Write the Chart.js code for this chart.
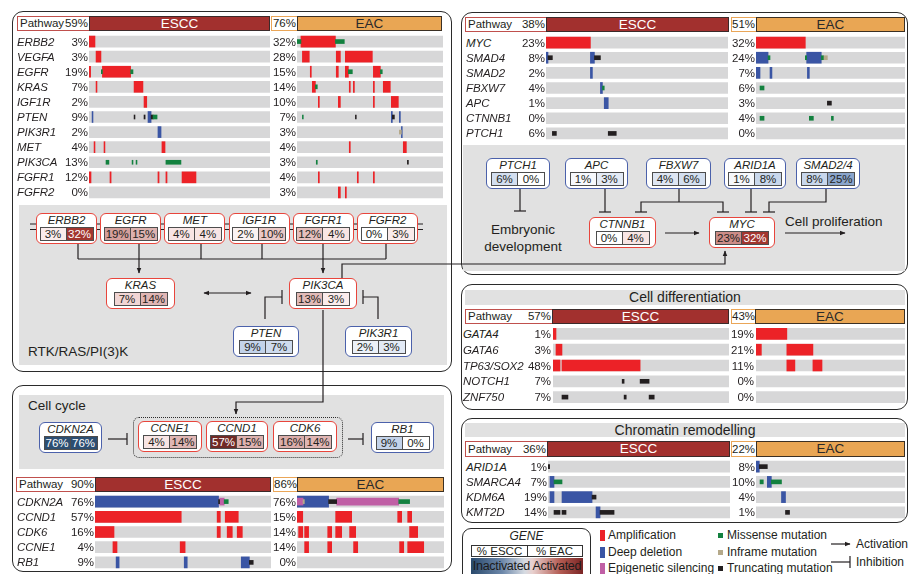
<!DOCTYPE html>
<html>
<head>
<meta charset="utf-8">
<script src="https://cdn.jsdelivr.net/npm/chart.js@4.4.1/dist/chart.umd.min.js"></script>
<style>
  body { margin: 0; background: #fff; }
  #fig { position: relative; width: 909px; height: 574px; overflow: hidden;
         font-family: "Liberation Sans", Arial, sans-serif; color: #231f20; }
  #fig div { position: absolute; box-sizing: border-box; white-space: nowrap; }
  #fig svg { position: absolute; left: 0; top: 0; }
</style>
</head>
<body>
<div id="fig"></div>
<script>
// ---------- data (positions along a track are in % of the track's samples) ----------
const rtkGenes = ["ERBB2", "VEGFA", "EGFR", "KRAS", "IGF1R", "PTEN", "PIK3R1", "MET", "PIK3CA", "FGFR1", "FGFR2"];
const rtkEsccPct = [3, 3, 19, 7, 2, 9, 2, 4, 13, 12, 0];
const rtkEacPct = [32, 28, 15, 14, 10, 7, 3, 4, 3, 4, 3];
const rtkPathway = [59, 76];
const rtkEsccEvents = [
  [0, "amp", 0, 3.3], [1, "amp", 3.9, 6.6],
  [2, "amp", 0, 0.9], [2, "mis", 6.8, 7.4], [2, "amp", 7.4, 23], [2, "mis", 23, 24.3],
  [3, "amp", 3.9, 4.4], [3, "amp", 24.9, 29.8],
  [4, "amp", 30.4, 31.9],
  [5, "del", 1.7, 2.2], [5, "trunc", 24.9, 25.4], [5, "trunc", 30.4, 31], [5, "del", 32.6, 34.3], [5, "trunc", 34.3, 35.4], [5, "mis", 35.4, 37.6],
  [6, "del", 38.1, 39.8],
  [7, "amp", 2.8, 3.3], [7, "amp", 8.3, 8.8], [7, "amp", 40.3, 42],
  [8, "mis", 9.4, 11], [8, "mis", 23.8, 24.3], [8, "mis", 26, 26.5], [8, "mis", 42.5, 50.8],
  [9, "amp", 0, 1.1], [9, "amp", 11.6, 12.2], [9, "amp", 38.1, 38.7], [9, "amp", 42.5, 43.1], [9, "amp", 51.4, 59.1],
];
const rtkEacEvents = [
  [0, "mis", 0, 2.7], [0, "amp", 2.7, 26.3], [0, "mis", 26.3, 32.4],
  [1, "amp", 3.7, 8.4], [1, "amp", 26.9, 29.7], [1, "amp", 33.1, 51.6],
  [2, "amp", 9.1, 9.8], [2, "amp", 26.9, 28.3], [2, "amp", 33.1, 35.2], [2, "mis", 35.2, 37.9], [2, "amp", 52.3, 57.1], [2, "mis", 57.1, 58.4],
  [3, "amp", 10.5, 12.6], [3, "mis", 12.6, 13.9], [3, "amp", 35.8, 36.5], [3, "amp", 38.6, 39.3], [3, "amp", 52.3, 53], [3, "amp", 59.1, 63.9],
  [4, "amp", 14.6, 15.3], [4, "amp", 28.3, 29.7], [4, "amp", 52.3, 53], [4, "amp", 64.6, 69.4],
  [5, "mis", 3.7, 4.3], [5, "trunc", 40, 40.6], [5, "del", 64.6, 65.3], [5, "trunc", 65.3, 66.7], [5, "del", 70.1, 70.8],
  [6, "inf", 70.1, 71.5], [6, "del", 71.5, 72.1],
  [7, "amp", 35.8, 36.5], [7, "amp", 72.8, 74.9],
  [8, "mis", 13.2, 13.9], [8, "trunc", 75.6, 76.3],
  [9, "amp", 14.6, 15.3], [9, "amp", 41.3, 42], [9, "amp", 52.3, 53],
  [10, "amp", 28.3, 29.7], [10, "amp", 33.1, 33.8],
];

const ccGenes = ["CDKN2A", "CCND1", "CDK6", "CCNE1", "RB1"];
const ccEsccPct = [76, 57, 16, 4, 9];
const ccEacPct = [76, 15, 14, 14, 0];
const ccPathway = [90, 86];
const ccEsccEvents = [
  [0, "del", 0, 70.2], [0, "trunc", 70.2, 70.8], [0, "epi", 70.8, 73.4], [0, "mis", 73.4, 75.7],
  [1, "amp", 0, 49], [1, "amp", 69.4, 71.2], [1, "amp", 74, 81.4],
  [2, "amp", 0, 10.8], [2, "amp", 69.4, 71.2], [2, "amp", 75.1, 78], [2, "amp", 80.8, 83.7],
  [3, "amp", 10.2, 12.5], [3, "amp", 48.4, 51.2],
  [4, "del", 12, 13.7], [4, "del", 50.7, 52.4], [4, "del", 83.1, 87.7], [4, "trunc", 87.7, 89.9],
];
const ccEacEvents = [
  [0, "del", 0, 21.5], [0, "epi", 0, 4.1], [0, "inf", 4.1, 5], [0, "trunc", 21.5, 27], [0, "epi", 27, 69.2], [0, "mis", 69.2, 76.6],
  [1, "amp", 0, 3.9], [1, "amp", 26.3, 37.2], [1, "amp", 68.5, 71.2], [1, "amp", 75.3, 78],
  [2, "amp", 1.1, 3.9], [2, "amp", 5.2, 7.9], [2, "amp", 20.9, 23.6], [2, "amp", 26.3, 30.4], [2, "amp", 35.8, 39.9], [2, "amp", 76.6, 82.1],
  [3, "amp", 5.2, 7.9], [3, "amp", 20.9, 23.6], [3, "amp", 38.5, 41.3], [3, "amp", 69.8, 72.6], [3, "amp", 75.3, 86.2],
];

const mycGenes = ["MYC", "SMAD4", "SMAD2", "FBXW7", "APC", "CTNNB1", "PTCH1"];
const mycEsccPct = [23, 8, 2, 4, 1, 0, 6];
const mycEacPct = [32, 24, 7, 6, 3, 4, 0];
const mycPathway = [38, 51];
const mycEsccEvents = [
  [0, "amp", 0, 24.4],
  [1, "del", 0, 1.1], [1, "trunc", 1.1, 3.5], [1, "del", 24.4, 26.6], [1, "trunc", 26.6, 29.9],
  [2, "del", 24.4, 25.5],
  [3, "del", 29.9, 31], [3, "mis", 31, 32],
  [4, "del", 32, 34.2],
  [6, "trunc", 3.5, 5.7], [6, "trunc", 34.2, 38.6],
];
const mycEacEvents = [
  [0, "amp", 0, 33.1],
  [1, "del", 0, 8.1], [1, "mis", 8.1, 9.4], [1, "mis", 33.1, 34], [1, "del", 34, 43.8], [1, "mis", 43.8, 45.2], [1, "inf", 45.2, 47.9],
  [2, "del", 0, 2.7], [2, "del", 9.4, 10.7], [2, "del", 34.5, 35.8],
  [3, "mis", 2.7, 5.4],
  [4, "trunc", 47.9, 50.6],
  [5, "mis", 2.7, 5.4], [5, "mis", 35.8, 38.5], [5, "mis", 50.6, 51.9],
];

const diffGenes = ["GATA4", "GATA6", "TP63/SOX2", "NOTCH1", "ZNF750"];
const diffEsccPct = [1, 3, 48, 7, 7];
const diffEacPct = [19, 21, 11, 0, 0];
const diffPathway = [57, 43];
const diffEsccEvents = [
  [0, "amp", 0, 1.7], [1, "amp", 1.7, 5.1], [2, "amp", 0, 4], [2, "amp", 5.1, 49.5],
  [3, "trunc", 39.3, 40.4], [3, "trunc", 49.5, 54.6],
  [4, "trunc", 5.1, 8.5], [4, "trunc", 40.4, 41.6], [4, "trunc", 54.6, 57.5],
];
const diffEacEvents = [
  [0, "amp", 0, 20.7], [1, "amp", 0, 3.6], [1, "amp", 20.7, 38.2], [2, "amp", 20.7, 26.1], [2, "amp", 38.2, 44.3],
];

const chromGenes = ["ARID1A", "SMARCA4", "KDM6A", "KMT2D"];
const chromEsccPct = [1, 7, 19, 14];
const chromEacPct = [8, 10, 4, 1];
const chromPathway = [36, 22];
const chromEsccEvents = [
  [0, "trunc", 0, 0.9],
  [1, "del", 1.1, 3.3], [1, "mis", 3.3, 7.7],
  [2, "del", 1.1, 3.3], [2, "del", 7.7, 24.2], [2, "trunc", 24.2, 26.4],
  [3, "trunc", 3.3, 6.6], [3, "trunc", 7.7, 9.9], [3, "del", 26.4, 28.6], [3, "trunc", 28.6, 36.3],
];
const chromEacEvents = [
  [0, "del", 0, 2.2], [0, "trunc", 2.2, 7.6],
  [1, "mis", 2.7, 4.9], [1, "del", 7.6, 10.3], [1, "mis", 10.3, 17.1],
  [2, "del", 17.1, 19.8],
  [3, "trunc", 19.8, 22.5],
];

// pathway diagram boxes: [gene, % ESCC, % EAC]
const rtkReceptorBoxes = [["ERBB2", 3, 32], ["EGFR", 19, 15], ["MET", 4, 4], ["IGF1R", 2, 10], ["FGFR1", 12, 4], ["FGFR2", 0, 3]];
const rtkEffectorBoxes = [["KRAS", 7, 14], ["PIK3CA", 13, 3]];
const rtkSuppressorBoxes = [["PTEN", 9, 7], ["PIK3R1", 2, 3]];
const ccBoxes = [["CDKN2A", 76, 76], ["CCNE1", 4, 14], ["CCND1", 57, 15], ["CDK6", 16, 14], ["RB1", 9, 0]];
const mycUpstreamBoxes = [["PTCH1", 6, 0], ["APC", 1, 3], ["FBXW7", 4, 6], ["ARID1A", 1, 8], ["SMAD2/4", 8, 25]];
const mycBoxes = [["CTNNB1", 0, 4], ["MYC", 23, 32]];

const legendAlterations = ["Amplification", "Deep deletion", "Epigenetic silencing"];
const legendMutations = ["Missense mutation", "Inframe mutation", "Truncating mutation"];

// ---------- styles ----------
const TYPES = {
  amp: { color: "#ec2227", thick: 11, order: 5 },
  del: { color: "#3a55a4", thick: 11, order: 5 },
  epi: { color: "#c05fa5", thick: 7, order: 4 },
  mis: { color: "#13813f", thick: 4, order: 3 },
  inf: { color: "#b5a98a", thick: 4, order: 3 },
  trunc: { color: "#231f20", thick: 4, order: 3 },
};
const RED_STOPS = [[0, [255, 255, 255]], [5, [246, 222, 221]], [15, [221, 178, 175]], [23, [204, 140, 135]], [32, [162, 54, 47]], [60, [107, 40, 36]]];
const BLUE_STOPS = [[0, [255, 255, 255]], [3, [227, 234, 245]], [9, [195, 211, 234]], [25, [138, 165, 204]], [76, [44, 78, 114]]];

const fig = document.getElementById("fig");

function box(x, y, w, h, css) {
  const d = document.createElement("div");
  d.style.cssText = `left:${x}px;top:${y}px;width:${w}px;height:${h}px;` + (css || "");
  fig.appendChild(d);
  return d;
}

function label(s, x, y, w, h, css) {
  const d = box(x, y, w, h, `line-height:${h}px;` + (css || ""));
  d.textContent = s;
  return d;
}

function cellColor(p, kind) {
  const stops = kind === "a" ? RED_STOPS : BLUE_STOPS;
  let c = stops[stops.length - 1][1];
  for (let i = 1; i < stops.length; i++) {
    if (p <= stops[i][0]) {
      const t = (p - stops[i - 1][0]) / (stops[i][0] - stops[i - 1][0]);
      c = stops[i - 1][1].map((v, k) => Math.round(v + (stops[i][1][k] - v) * t));
      break;
    }
  }
  const light = kind === "a" ? p >= 30 : p >= 50;
  return { bg: `rgb(${c.join(",")})`, fg: light ? "#fff" : "#231f20" };
}

function track(x0, x1, top, height, genes, events) {
  const w = x1 - x0;
  const cv = document.createElement("canvas");
  cv.width = w;
  cv.height = height;
  cv.style.cssText = `position:absolute;left:${x0}px;top:${top}px;width:${w}px;height:${height}px;`;
  fig.appendChild(cv);
  const datasets = [{
    data: genes.map((g) => ({ y: g, x: [0, 100] })),
    backgroundColor: "#d7d7d8",
    barThickness: 11,
    grouped: false,
    order: 10,
  }];
  Object.keys(TYPES).forEach((k) => {
    datasets.push({
      data: events.filter((ev) => ev[1] === k).map((ev) => ({ y: genes[ev[0]], x: [ev[2], ev[3]] })),
      backgroundColor: TYPES[k].color,
      barThickness: TYPES[k].thick,
      grouped: false,
      order: TYPES[k].order,
    });
  });
  return new Chart(cv, {
    type: "bar",
    data: { labels: genes, datasets },
    options: {
      indexAxis: "y",
      responsive: false,
      animation: false,
      events: [],
      layout: { padding: 0 },
      plugins: { legend: { display: false }, tooltip: { enabled: false } },
      scales: {
        x: { type: "linear", min: 0, max: 100, display: false },
        y: { display: false },
      },
    },
  });
}

function header(y, h, px0, ex0, ex1, ax0, ab0, ax1, pathway) {
  const p = box(px0, y, ex0 - px0, h, `border:1px solid #c0504d;border-right:none;font-size:11.5px;line-height:${h - 2}px;display:flex;justify-content:space-between;padding:0 1px 0 2px;`);
  p.innerHTML = `<span>Pathway</span><span>${pathway[0]}%</span>`;
  label("ESCC", ex0, y, ex1 - ex0, h, `background:#a2302e;border:1px solid #3b2a2a;color:#fff;text-align:center;font-size:13.5px;line-height:${h - 2}px;`);
  label(pathway[1] + "%", ax0, y, ab0 - ax0, h, `border:1px solid #eaa658;border-right:none;text-align:right;font-size:11.5px;padding-right:1px;line-height:${h - 2}px;`);
  label("EAC", ab0, y, ax1 - ab0, h, `background:#e9a654;border:1px solid #3b3024;color:#2a2a2a;text-align:center;font-size:13.5px;line-height:${h - 2}px;`);
}

function oncoprint(o) {
  header(o.hy, o.hh, o.px0, o.ex0, o.ex1, o.ax0, o.ab0, o.ax1, o.pathway);
  const h = o.genes.length * o.pitch;
  const esc = track(o.tE[0], o.tE[1], o.top, Math.round(h), o.genes, o.escc);
  track(o.tA[0], o.tA[1], o.top, Math.round(h), o.genes, o.eac);
  o.genes.forEach((g, i) => {
    const cy = o.top + esc.scales.y.getPixelForValue(i);
    label(g, o.nameX, cy - 7, 80, 14, "font-style:italic;font-size:11.5px;letter-spacing:-0.1px;");
    label(o.esccPct[i] + "%", o.pctE - 40, cy - 7, 40, 14, "text-align:right;font-size:11.5px;");
    label(o.eacPct[i] + "%", o.pctA - 40, cy - 7, 40, 14, "text-align:right;font-size:11.5px;");
  });
}

function geneBox(b, x0, x1, y0, kind) {
  const [name, p1, p2] = b;
  const w = x1 - x0;
  box(x0, y0, w, 31, `background:#fff;border:1.5px solid ${kind === "a" ? "#e8453c" : "#4b61ab"};border-radius:6px;`);
  label(name, x0, y0 + 1, w, 13, "text-align:center;font-style:italic;font-size:11.5px;");
  const cx = (x0 + x1) / 2;
  [p1, p2].forEach((p, i) => {
    const c = cellColor(p, kind);
    label(p + "%", cx - 27 + i * 27, y0 + 14, 27, 14,
      `background:${c.bg};color:${c.fg};border:1px solid #4d4d4d;${i ? "border-left:none;" : ""}text-align:center;font-size:11.5px;line-height:12px;`);
  });
}

// ---------- frames ----------
const PANEL = "border:1.4px solid #2b2b2b;border-radius:11px;";
box(12, 11, 440, 361, PANEL);
box(12, 385, 440, 187, PANEL);
box(461, 12, 447, 263, PANEL);
box(461, 284, 447, 126, PANEL);
box(461, 418, 447, 105, PANEL);
box(19, 205, 428, 160, "background:#e1e1e1;");
box(19, 395, 425, 74, "background:#e1e1e1;");
box(463, 145, 442, 126, "background:#e1e1e1;");
label("Cell differentiation", 465, 290, 440, 15, "background:#e1e1e1;text-align:center;font-size:14px;");
label("Chromatin remodelling", 465, 423, 440, 14, "background:#e1e1e1;text-align:center;font-size:14px;");

// ---------- connectors ----------
const ST = 'stroke="#231f20" stroke-width="1.2" fill="none"';
const pts = (p) => p.map((q) => q.join(",")).join(" ");
const act = (p) => `<polyline points="${pts(p)}" ${ST} marker-end="url(#ah)"/>`;
const ln = (p) => `<polyline points="${pts(p)}" ${ST}/>`;
function inh(p, r) {
  const [a, b] = [p[p.length - 2], p[p.length - 1]];
  r = r || 6;
  const bar = a[1] === b[1]
    ? [[b[0], b[1] - r], [b[0], b[1] + r]]
    : [[b[0] - r, b[1]], [b[0] + r, b[1]]];
  return ln(p) + ln(bar);
}
let svg = `<svg width="909" height="574"><defs><marker id="ah" viewBox="0 0 10 10" refX="9" refY="5" markerWidth="5" markerHeight="5" orient="auto-start-reverse"><path d="M0,1 L10,5 L0,9 z" fill="#231f20"/></marker></defs>`;
svg += ln([[30, 224], [423, 224]]) + ln([[30, 229.5], [423, 229.5]]);
[78, 139, 201, 262, 323, 386].forEach((x) => { svg += ln([[x, 244], [x, 259]]); });
svg += ln([[78, 259], [386, 259]]);
svg += act([[139, 259], [139, 273]]) + act([[323, 259], [323, 273]]);
svg += `<line x1="204" y1="293" x2="251" y2="293" ${ST} marker-start="url(#ah)" marker-end="url(#ah)"/>`;
svg += act([[342, 278], [342, 264], [725, 264], [725, 251]]);
svg += inh([[265, 319], [265, 297], [282, 297]], 7) + inh([[378, 319], [378, 297], [363, 297]], 7);
svg += act([[323, 310], [323, 402], [236, 402], [236, 414]]);
svg += inh([[108, 439], [127, 439]], 6) + inh([[348, 439], [363, 439]], 6);
svg += inh([[520, 189], [520, 211]]) + inh([[605, 189], [605, 212]]);
svg += ln([[679, 189], [679, 202]]) + inh([[679, 202], [641, 202], [641, 212]]) + inh([[679, 202], [723, 202], [723, 212]]);
svg += inh([[751, 189], [751, 212]]) + inh([[826, 189], [826, 202], [769, 202], [769, 212]]);
svg += act([[665, 233], [699, 233]]) + act([[785, 233], [845, 233]]);
svg += act([[831, 544], [850, 544]]) + inh([[831, 562], [850, 562]], 6);
svg += "</svg>";
fig.insertAdjacentHTML("beforeend", svg);
box(133, 417, 210, 41, "border:1.6px dotted #2b2b2b;border-radius:6px;");

// ---------- pathway diagrams ----------
rtkReceptorBoxes.forEach((b, i) => geneBox(b, 36 + i * 64.2, 97 + i * 64.2, 213, "a"));
geneBox(rtkEffectorBoxes[0], 106, 175, 278, "a");
geneBox(rtkEffectorBoxes[1], 289, 357, 278, "a");
geneBox(rtkSuppressorBoxes[0], 233, 299, 326, "i");
geneBox(rtkSuppressorBoxes[1], 345, 412, 326, "i");
label("RTK/RAS/PI(3)K", 28, 344, 140, 16, "font-size:13.5px;");

label("Cell cycle", 28, 398, 100, 16, "font-size:13.5px;");
geneBox(ccBoxes[0], 39, 102, 422, "i");
geneBox(ccBoxes[1], 138, 202, 421, "a");
geneBox(ccBoxes[2], 206, 268, 421, "a");
geneBox(ccBoxes[3], 273, 337, 421, "a");
geneBox(ccBoxes[4], 371, 434, 422, "i");

[[486, 550], [565, 628], [646, 711], [724, 786], [796, 860]].forEach((r, i) => geneBox(mycUpstreamBoxes[i], r[0], r[1], 158, "i"));
geneBox(mycBoxes[0], 589, 656, 217, "a");
geneBox(mycBoxes[1], 709, 775, 217, "a");
label("Embryonic", 473, 221, 100, 17, "text-align:center;font-size:13.5px;");
label("development", 473, 238, 100, 17, "text-align:center;font-size:13.5px;");
label("Cell proliferation", 785, 213, 120, 17, "font-size:13.5px;");

// ---------- oncoprints ----------
oncoprint({ genes: rtkGenes, esccPct: rtkEsccPct, eacPct: rtkEacPct, pathway: rtkPathway, escc: rtkEsccEvents, eac: rtkEacEvents,
  hy: 16, hh: 15, px0: 17, ex0: 89, ex1: 270, ax0: 271, ab0: 297, ax1: 442,
  tE: [89, 270], tA: [297, 443], top: 34, pitch: 15.1, nameX: 17, pctE: 88, pctA: 296 });
oncoprint({ genes: ccGenes, esccPct: ccEsccPct, eacPct: ccEacPct, pathway: ccPathway, escc: ccEsccEvents, eac: ccEacEvents,
  hy: 477, hh: 15, px0: 16, ex0: 95, ex1: 271, ax0: 273, ab0: 297, ax1: 444,
  tE: [95, 271], tA: [297, 444], top: 494, pitch: 15.2, nameX: 17, pctE: 94, pctA: 296 });
oncoprint({ genes: mycGenes, esccPct: mycEsccPct, eacPct: mycEacPct, pathway: mycPathway, escc: mycEsccEvents, eac: mycEacEvents,
  hy: 17, hh: 15, px0: 465, ex0: 546, ex1: 729, ax0: 731, ab0: 756, ax1: 905,
  tE: [546, 728], tA: [756, 905], top: 35, pitch: 15.1, nameX: 466, pctE: 545, pctA: 755 });
oncoprint({ genes: diffGenes, esccPct: diffEsccPct, eacPct: diffEacPct, pathway: diffPathway, escc: diffEsccEvents, eac: diffEacEvents,
  hy: 309, hh: 15, px0: 465, ex0: 552, ex1: 729, ax0: 731, ab0: 755, ax1: 905,
  tE: [553, 729], tA: [756, 905], top: 326, pitch: 15.8, nameX: 463, pctE: 551, pctA: 754 });
oncoprint({ genes: chromGenes, esccPct: chromEsccPct, eacPct: chromEacPct, pathway: chromPathway, escc: chromEsccEvents, eac: chromEacEvents,
  hy: 441, hh: 16, px0: 465, ex0: 547, ex1: 730, ax0: 731, ab0: 756, ax1: 905,
  tE: [548, 730], tA: [756, 905], top: 459, pitch: 15.2, nameX: 466, pctE: 547, pctA: 755 });

// ---------- legend ----------
box(462, 528, 129, 56, "border:1.4px solid #2b2b2b;border-radius:9px;");
label("GENE", 462, 530, 129, 13, "text-align:center;font-style:italic;font-size:12px;");
label("% ESCC", 471, 545, 57, 12, "border:1px solid #333;text-align:center;font-size:11.5px;line-height:10px;");
label("% EAC", 527, 545, 56, 12, "border:1px solid #333;border-left:none;text-align:center;font-size:11.5px;line-height:10px;");
label("Inactivated Activated", 471, 558, 112, 17,
  "background:linear-gradient(90deg,#29496c 0%,#6d88aa 28%,#d6dbe2 48%,#e8d0ce 55%,#b25a51 80%,#7a2525 100%);text-align:center;font-size:12.5px;color:#1b1b1b;letter-spacing:-0.3px;");
["amp", "del", "epi"].forEach((k, i) => {
  box(600, 530 + i * 16.5, 5, 11, `background:${TYPES[k].color};`);
  label(legendAlterations[i], 608, 529 + i * 16.5, 120, 13, "font-size:12px;");
});
["mis", "inf", "trunc"].forEach((k, i) => {
  box(718, 533 + i * 16.5, 5, 5, `background:${TYPES[k].color};`);
  label(legendMutations[i], 727, 529 + i * 16.5, 120, 13, "font-size:12px;");
});
label("Activation", 856, 537, 60, 14, "font-size:12px;");
label("Inhibition", 856, 555, 60, 14, "font-size:12px;");
</script>
</body>
</html>
